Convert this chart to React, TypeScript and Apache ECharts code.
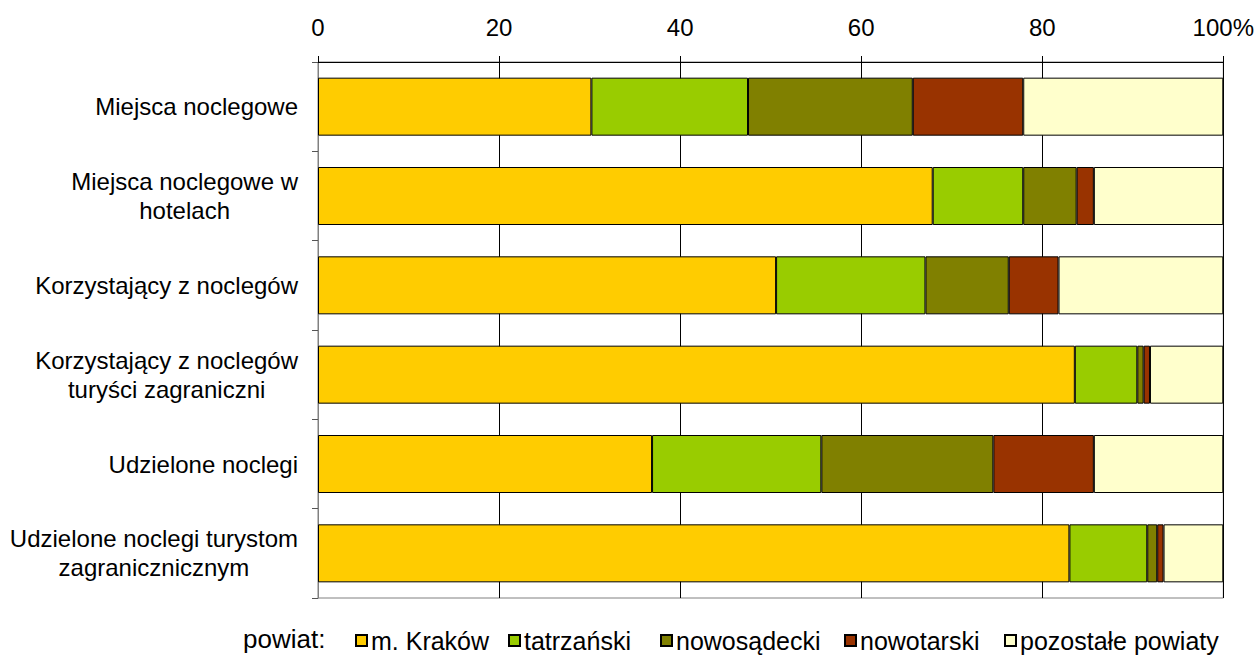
import React, { useEffect, useRef } from 'react';
import * as echarts from 'echarts';

const categories = [
  'Miejsca noclegowe',
  'Miejsca noclegowe w\nhotelach',
  'Korzystający z noclegów',
  'Korzystający z noclegów\nturyści zagraniczni',
  'Udzielone noclegi',
  'Udzielone noclegi turystom\nzagranicznicznym',
];
const seriesNames = ['m. Kraków', 'tatrzański', 'nowosądecki', 'nowotarski', 'pozostałe powiaty'];
const krakow = [30.2, 67.9, 50.6, 83.6, 36.9, 83.0];
const tatrzanski = [17.3, 10.0, 16.5, 6.9, 18.7, 8.6];
const nowosadecki = [18.2, 5.9, 9.2, 0.7, 19.0, 1.1];
const nowotarski = [12.2, 1.9, 5.5, 0.7, 11.1, 0.7];
const pozostale = [22.1, 14.3, 18.2, 8.1, 14.3, 6.6];
const colors = ['#FFCC00', '#99CC00', '#808000', '#993300', '#FFFFCC'];
const legendTitle = 'powiat:';

export default function App() {
  const ref = useRef<HTMLDivElement>(null);
  useEffect(() => {
    document.body.style.margin = '0';
    const chart = echarts.init(ref.current!, null, { renderer: 'svg' });
    const font = '"Liberation Sans", Arial, sans-serif';
    const values = [krakow, tatrzanski, nowosadecki, nowotarski, pozostale];
    const legendLeft = [355, 508, 660, 844, 1004];
    chart.setOption({
      animation: false,
      textStyle: { fontFamily: font },
      grid: { left: 318, right: 32, top: 62, bottom: 57, show: true, borderColor: '#808080', borderWidth: 1 },
      xAxis: {
        type: 'value', position: 'top', min: 0, max: 100, interval: 20,
        axisLine: { show: true, lineStyle: { color: '#000', width: 1 } },
        axisTick: { show: true, length: 6, lineStyle: { color: '#000' } },
        splitLine: { show: true, lineStyle: { color: '#000', width: 1 } },
        axisLabel: {
          fontSize: 24, color: '#000', margin: 23, fontFamily: font,
          formatter: (v: number) => (v === 100 ? '100%' : String(v)),
        },
      },
      yAxis: {
        type: 'category', inverse: true, data: categories,
        axisLine: { show: true, lineStyle: { color: '#808080' } },
        axisTick: { show: true, length: 6, lineStyle: { color: '#555' } },
        axisLabel: {
          margin: 20, color: '#000', fontSize: 24, lineHeight: 29, fontFamily: font,
          formatter: (v: string) => v.split('\n').map((l) => `{c|${l}}`).join('\n'),
          rich: { c: { align: 'center', fontSize: 24, lineHeight: 29, color: '#000', fontFamily: font } },
        },
      },
      legend: seriesNames.map((n, i) => ({
        data: [n], left: legendLeft[i], top: 628, itemWidth: 11, itemHeight: 11, icon: 'rect',
        padding: 0, textStyle: { fontSize: 25, color: '#000', fontFamily: font, padding: [0, 0, 0, -1] },
      })),
      graphic: [{
        type: 'text', left: 243, top: 626,
        style: { text: legendTitle, fontSize: 26, fill: '#000', fontFamily: font },
      }],
      series: seriesNames.map((n, i) => ({
        name: n, type: 'bar', stack: 'total', data: values[i], barWidth: 58,
        itemStyle: { color: colors[i], borderColor: '#000', borderWidth: 1 },
      })),
    });
    return () => chart.dispose();
  }, []);
  return <div ref={ref} style={{ width: 1257, height: 655 }} />;
}
